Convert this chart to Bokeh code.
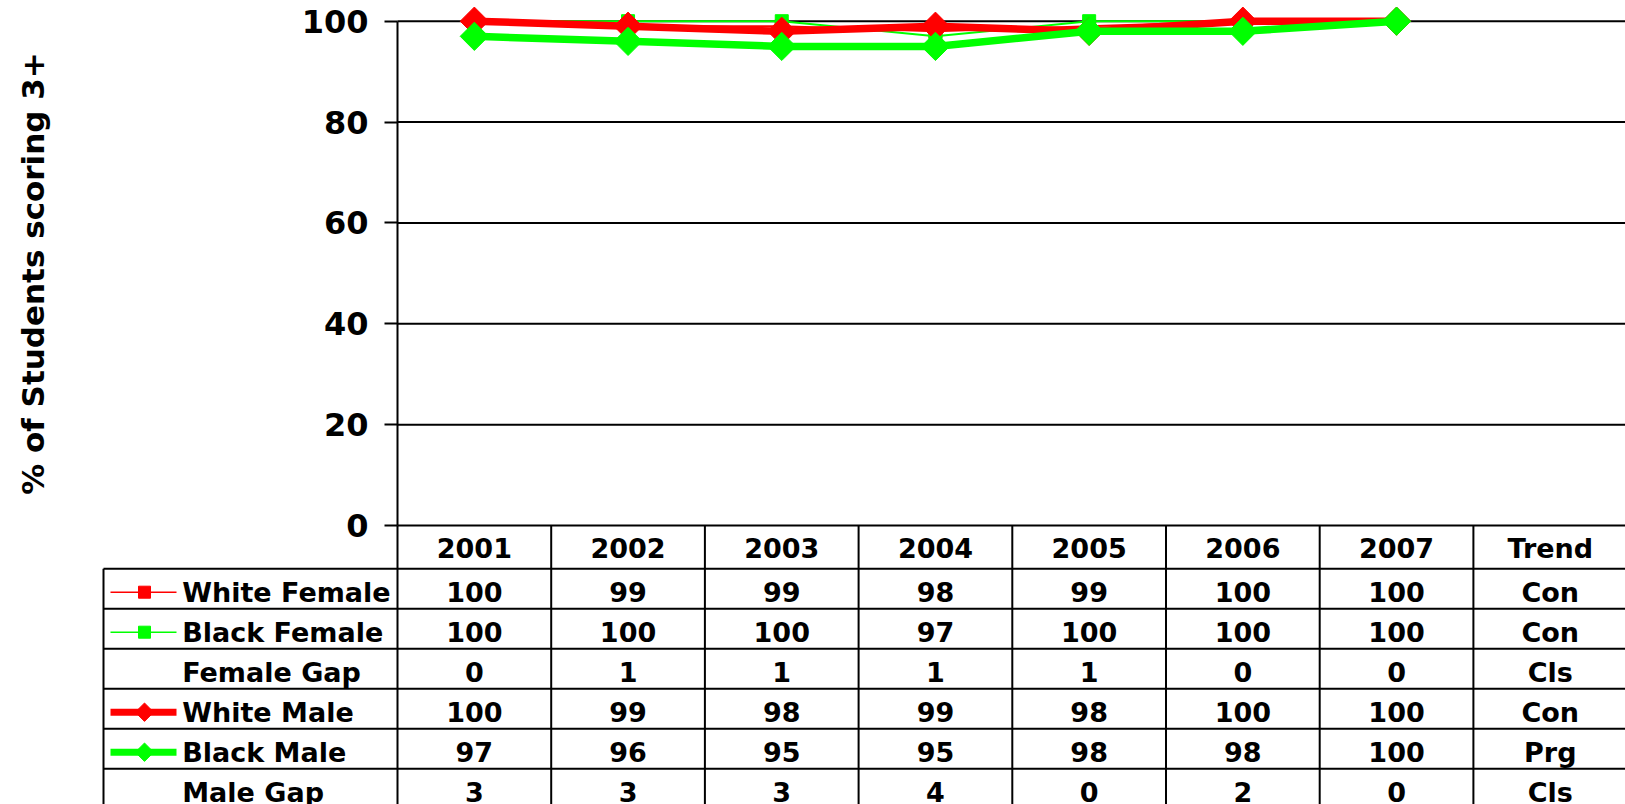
import numpy as np
from bokeh.plotting import figure
from bokeh.models import Range1d, FixedTicker, LinearAxis
from bokeh.core.properties import value
from bokeh.embed import file_html
from bokeh.resources import INLINE

# ---------------- data ----------------
YEARS = ["2001", "2002", "2003", "2004", "2005", "2006", "2007"]
TREND_HEADER = "Trend"
WHITE_FEMALE = [100, 99, 99, 98, 99, 100, 100]
BLACK_FEMALE = [100, 100, 100, 97, 100, 100, 100]
FEMALE_GAP = [0, 1, 1, 1, 1, 0, 0]
WHITE_MALE = [100, 99, 98, 99, 98, 100, 100]
BLACK_MALE = [97, 96, 95, 95, 98, 98, 100]
MALE_GAP = [3, 3, 3, 4, 0, 2, 0]
TRENDS = ["Con", "Con", "Cls", "Con", "Prg", "Cls"]
ROW_LABELS = ["White Female", "Black Female", "Female Gap",
              "White Male", "Black Male", "Male Gap"]
Y_TICKS = [0, 20, 40, 60, 80, 100]
Y_TITLE = "% of Students scoring 3+"

# ---------------- style / layout (pixels) ----------------
FONT = "DejaVu Sans"
RED = "#FF0000"
GREEN = "#00FF00"
W = 1625
H = 804
FRAME_LEFT = 397.0      # x of the value axis
COL_W = 153.7           # width of one year column
Y100 = 20.7             # y of the 100 line
Y0 = 525.0              # y of the 0 line
ROW_TOP = 568.2         # top of first table row
ROW_H = 40.0
TEXT_DY = 3.5           # texts sit a little below the row centre
LABEL_LEFT = 103.0
TEXT_LEFT = 181.7
SYM_L, SYM_R, SYM_C = 110.0, 176.0, 144.0
TABLE_FS = "27px"

ppu_y = (Y0 - Y100) / 100.0


def px_to_x(px):
    return 0.5 + (px - FRAME_LEFT) / COL_W


def py_to_y(py):
    return 100 - (py - Y100) / ppu_y


x_end = px_to_x(W)
xs = list(range(1, len(YEARS) + 1))
cats = YEARS + [TREND_HEADER]
cat_x = list(range(1, len(cats) + 1))
bounds_x = [i + 0.5 for i in range(0, len(cats) + 1)]

p = figure(width=W, height=H, output_backend="svg", toolbar_location=None,
           x_range=Range1d(px_to_x(0), x_end), y_range=Range1d(py_to_y(H), py_to_y(0)),
           x_axis_location=None, y_axis_location=None,
           min_border_left=0, min_border_right=0, min_border_top=0, min_border_bottom=0)
p.outline_line_color = None
p.background_fill_color = "white"
p.border_fill_color = "white"
p.xgrid.visible = False
p.ygrid.visible = False

# value axis, fixed at the left edge of the first year column
ticker = FixedTicker(ticks=Y_TICKS)
ax = LinearAxis(fixed_location=0.5, ticker=ticker, bounds=(0, 100))
ax.axis_line_color = "black"
ax.axis_line_width = 2
ax.major_tick_line_color = "black"
ax.major_tick_line_width = 2
ax.major_tick_out = 13
ax.major_tick_in = 0
ax.minor_tick_line_color = None
ax.major_label_standoff = 16
ax.major_label_text_font = FONT
ax.major_label_text_font_style = "bold"
ax.major_label_text_font_size = "32px"
ax.major_label_text_color = "black"
ax.axis_label = Y_TITLE
ax.axis_label_text_font = FONT
ax.axis_label_text_font_style = "bold"
ax.axis_label_text_font_size = "31px"
ax.axis_label_text_color = "black"
ax.axis_label_standoff = 248
p.add_layout(ax, "left")

# horizontal grid lines
p.segment(x0=[0.5] * len(Y_TICKS), y0=Y_TICKS, x1=[x_end] * len(Y_TICKS), y1=Y_TICKS,
          line_color="black", line_width=2)

# ---------------- data table ----------------
n_rows = len(ROW_LABELS)
row_tops = [py_to_y(ROW_TOP + k * ROW_H) for k in range(n_rows + 1)]
row_mid = [py_to_y(ROW_TOP + (k + 0.5) * ROW_H + TEXT_DY) for k in range(n_rows)]
y_bottom = py_to_y(H)
xl = px_to_x(LABEL_LEFT)

# column borders (header + rows)
p.segment(x0=bounds_x, y0=[0] * len(bounds_x), x1=bounds_x, y1=[y_bottom] * len(bounds_x),
          line_color="black", line_width=2)
# row borders
p.segment(x0=[xl] * len(row_tops), y0=row_tops, x1=[x_end] * len(row_tops), y1=row_tops,
          line_color="black", line_width=2)
p.segment(x0=[xl], y0=[row_tops[0]], x1=[xl], y1=[y_bottom], line_color="black", line_width=2)

# header labels
y_header = py_to_y((Y0 + ROW_TOP) / 2 + 1)
p.text(x=cat_x, y=[y_header] * len(cats), text=cats,
       text_font=value(FONT), text_font_style="bold", text_font_size=TABLE_FS,
       text_align="center", text_baseline="middle", text_color="black")

# row labels
p.text(x=[px_to_x(TEXT_LEFT)] * n_rows, y=row_mid, text=ROW_LABELS,
       text_font=value(FONT), text_font_style="bold", text_font_size=TABLE_FS,
       text_align="left", text_baseline="middle", text_color="black")

row_values = [WHITE_FEMALE, BLACK_FEMALE, FEMALE_GAP, WHITE_MALE, BLACK_MALE, MALE_GAP]
tx, ty, tt = [], [], []
for r, vals in enumerate(row_values):
    for j, v in enumerate(vals):
        tx.append(xs[j])
        ty.append(row_mid[r])
        tt.append(str(v))
    tx.append(len(cats))
    ty.append(row_mid[r])
    tt.append(TRENDS[r])
p.text(x=tx, y=ty, text=tt,
       text_font=value(FONT), text_font_style="bold", text_font_size=TABLE_FS,
       text_align="center", text_baseline="middle", text_color="black")

# legend keys inside the table
sym = [(0, RED, 1.5, 0.0, 12), (1, GREEN, 1.5, 0.0, 12),
       (3, RED, 7, np.pi / 4, 13), (4, GREEN, 7, np.pi / 4, 13)]
for r, c, lw, ang, sz in sym:
    p.segment(x0=[px_to_x(SYM_L)], y0=[row_mid[r]], x1=[px_to_x(SYM_R)], y1=[row_mid[r]],
              line_color=c, line_width=lw)
    p.scatter([px_to_x(SYM_C)], [row_mid[r]], marker="square", angle=ang, size=sz,
              fill_color=c, line_color=c)

# ---------------- series ----------------
p.line(xs, WHITE_FEMALE, line_color=RED, line_width=2)
p.scatter(xs, WHITE_FEMALE, marker="square", size=13, fill_color=RED, line_color=RED)
p.line(xs, BLACK_FEMALE, line_color=GREEN, line_width=2)
p.scatter(xs, BLACK_FEMALE, marker="square", size=13, fill_color=GREEN, line_color=GREEN)
p.line(xs, WHITE_MALE, line_color=RED, line_width=7.5)
p.scatter(xs, WHITE_MALE, marker="square", angle=np.pi / 4, size=20,
          fill_color=RED, line_color=RED)
p.line(xs, BLACK_MALE, line_color=GREEN, line_width=7.5)
p.scatter(xs, BLACK_MALE, marker="square", angle=np.pi / 4, size=20,
          fill_color=GREEN, line_color=GREEN)

open("out.html", "w").write(file_html(p, INLINE))
